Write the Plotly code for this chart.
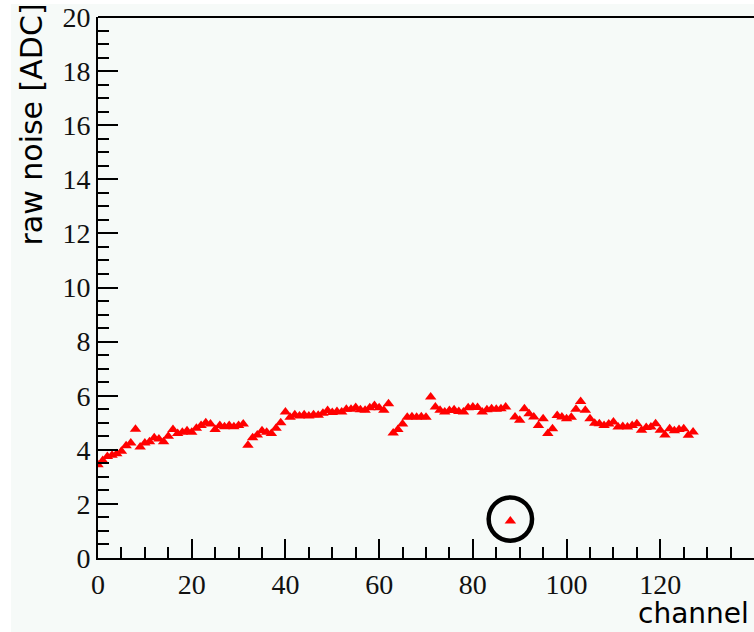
import plotly.graph_objects as go

# ---- data ----
channels = list(range(128))
raw_noise = [
    3.45, 3.60, 3.75, 3.80, 3.85, 3.95, 4.15, 4.25, 4.76, 4.10,
    4.25, 4.30, 4.45, 4.40, 4.30, 4.50, 4.75, 4.60, 4.65, 4.70,
    4.65, 4.80, 4.90, 5.00, 4.95, 4.75, 4.90, 4.85, 4.90, 4.85,
    4.90, 4.95, 4.17, 4.45, 4.55, 4.70, 4.65, 4.60, 4.80, 5.00,
    5.40, 5.20, 5.30, 5.25, 5.30, 5.25, 5.30, 5.28, 5.35, 5.45,
    5.38, 5.42, 5.40, 5.50, 5.50, 5.56, 5.48, 5.46, 5.55, 5.64,
    5.55, 5.46, 5.70, 4.62, 4.75, 4.95, 5.20, 5.22, 5.20, 5.22,
    5.20, 5.95, 5.58, 5.46, 5.40, 5.45, 5.48, 5.42, 5.40, 5.55,
    5.58, 5.56, 5.40, 5.48, 5.52, 5.50, 5.52, 5.58, 1.37, 5.21,
    5.09, 5.52, 5.33, 5.21, 4.90, 5.15, 4.60, 4.78, 5.27, 5.21,
    5.15, 5.20, 5.50, 5.79, 5.46, 5.15, 4.98, 4.96, 4.90, 4.95,
    5.03, 4.84, 4.86, 4.84, 4.90, 4.96, 4.72, 4.82, 4.84, 4.96,
    4.72, 4.55, 4.78, 4.70, 4.75, 4.78, 4.54, 4.66,
]
x_ticks = [0, 20, 40, 60, 80, 100, 120]
y_ticks = [0, 2, 4, 6, 8, 10, 12, 14, 16, 18, 20]
highlight_channel = 88
highlight_value = 1.44

BG = "#f6faf8"
W, H = 754, 632
L, R, T, B = 98, 0, 17, 74
pw = W - L - R
ph = H - T - B

def px_to_paper_x(p):
    return (p - L) / pw

def py_to_paper_y(p):
    return (H - B - p) / ph

fig = go.Figure()
fig.add_trace(go.Scatter(
    x=channels, y=raw_noise, mode="markers",
    marker=dict(symbol="triangle-up", size=10, color="#ff0000",
                line=dict(width=0)),
    showlegend=False,
))

tick_font = dict(family="Liberation Serif", size=28, color="#111111")

fig.update_layout(
    width=W, height=H,
    margin=dict(l=L, r=R, t=T, b=B, pad=0),
    paper_bgcolor=BG, plot_bgcolor=BG,
    xaxis=dict(
        range=[0, 140], tickvals=x_ticks, ticktext=[str(v) for v in x_ticks],
        ticks="inside", ticklen=19, tickwidth=2, tickcolor="black",
        showline=True, linecolor="black", linewidth=2,
        showgrid=False, zeroline=False, tickfont=tick_font,
        minor=dict(dtick=5, tick0=0, ticks="inside", ticklen=11,
                   tickwidth=2, tickcolor="black", showgrid=False),
    ),
    yaxis=dict(
        range=[0, 20], tickvals=y_ticks, ticktext=[str(v) for v in y_ticks],
        ticks="inside", ticklen=20, tickwidth=2, tickcolor="black",
        showline=True, linecolor="black", linewidth=2,
        showgrid=False, zeroline=False, tickfont=tick_font,
        minor=dict(dtick=0.5, tick0=0, ticks="inside", ticklen=11,
                   tickwidth=2, tickcolor="black", showgrid=False),
    ),
    shapes=[
        # top frame line
        dict(type="line", xref="paper", yref="paper", x0=0, x1=1, y0=1, y1=1,
             line=dict(color="black", width=2)),
        # white outer strips
        dict(type="rect", xref="paper", yref="paper",
             x0=px_to_paper_x(0), x1=px_to_paper_x(11),
             y0=py_to_paper_y(H), y1=py_to_paper_y(0),
             fillcolor="white", line=dict(width=0), layer="below"),
        dict(type="rect", xref="paper", yref="paper",
             x0=px_to_paper_x(0), x1=px_to_paper_x(W),
             y0=py_to_paper_y(4), y1=py_to_paper_y(0),
             fillcolor="white", line=dict(width=0), layer="below"),
        # highlight circle
        dict(type="circle", xref="x", yref="y",
             x0=highlight_channel - 4.63, x1=highlight_channel + 4.63,
             y0=highlight_value - 0.80, y1=highlight_value + 0.80,
             line=dict(color="black", width=4.5)),
    ],
    annotations=[
        dict(text="raw noise [ADC]", textangle=-90, showarrow=False,
             xref="paper", yref="paper",
             x=px_to_paper_x(11), y=py_to_paper_y(2),
             xanchor="left", yanchor="top",
             font=dict(family="DejaVu Sans", size=30, color="black")),
        dict(text="channel", showarrow=False,
             xref="paper", yref="paper",
             x=px_to_paper_x(751), y=py_to_paper_y(613),
             xanchor="right", yanchor="middle",
             font=dict(family="DejaVu Sans", size=28, color="black")),
    ],
)

fig.write_html("out.html")
